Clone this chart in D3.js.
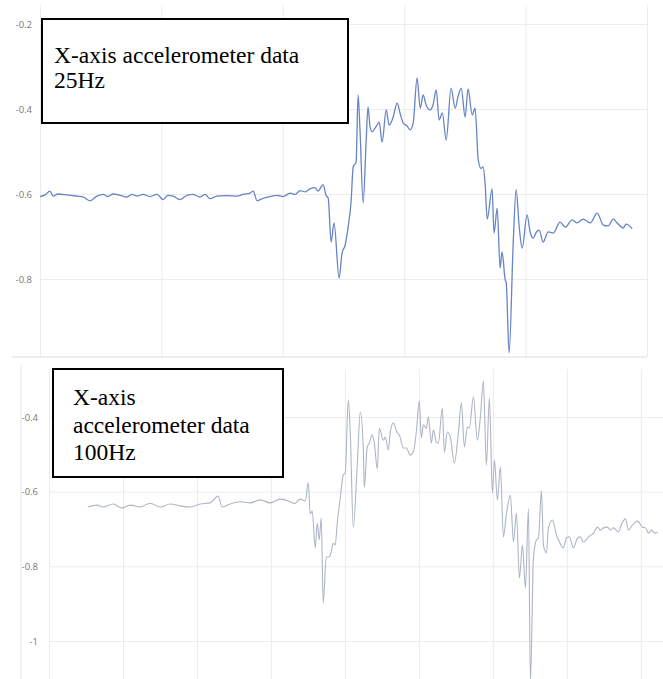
<!DOCTYPE html>
<html>
<head>
<meta charset="utf-8">
<script src="https://cdn.jsdelivr.net/npm/d3@7"></script>
<style>
  body { margin: 0; background: #fff; }
  .tick text { font-family: "Open Sans", sans-serif; font-size: 9.5px; fill: #777; }
  .grid line { stroke: #ececec; stroke-width: 1; }
  .label text { font-family: "Liberation Serif", "Times New Roman", serif; font-size: 23.5px; fill: #000; }
</style>
</head>
<body>
<svg id="chart" width="663" height="679"></svg>
<script>
// 25Hz recording: sample index / acceleration (g)
var topT = [0, 2.1, 4.1, 5.4, 7.4, 11.1, 15.2, 17.7, 20.6, 23.5, 26, 28, 30.1, 33, 35.8, 37.9, 40, 42.4,
    45.3, 48.2, 50.7, 52.7, 54.8, 57.7, 60.6, 63, 65.9, 68, 70, 72.9, 77, 81.2, 83.6, 86.5, 87.8, 89.4,
    91.9, 94.8, 97.6, 100.1, 103, 105.1, 107.1, 109.2, 111.2, 113.3, 114.5, 116.6, 117.8, 118.7,
    119.9, 121.1, 123.2, 124.4, 125.7, 126.9, 128.1, 129, 130.2, 131, 131.8, 133.1, 134.3, 135.1,
    135.9, 136.8, 138, 138.8, 139.7, 140.9, 142.6, 143.8, 145.4, 147.1, 148.3, 149.6, 151.2, 152.4,
    153.7, 155.3, 156.6, 157.8, 159, 160.7, 161.9, 163.2, 164.4, 165.7, 167.3, 169.3, 171, 172.2,
    173.5, 175.1, 176.3, 178, 179.2, 180.5, 181.7, 182.5, 183.3, 184.2, 186.2, 187, 188.3, 189.5,
    190.3, 191.6, 192, 193.2, 194.9, 196.1, 197.4, 198.6, 200.6, 201.9, 203.1, 204.4, 205.6, 207.2,
    209.3, 211.4, 214.2, 216.3, 219.2, 221.2, 223.7, 226.6, 229.5, 232, 234, 236.1, 237.7, 240.2,
    241.4, 243.9];
var topV = [-0.606, -0.602, -0.593, -0.605, -0.600, -0.602, -0.605, -0.607, -0.616, -0.605, -0.601,
    -0.606, -0.600, -0.603, -0.607, -0.601, -0.605, -0.601, -0.606, -0.601, -0.613, -0.603, -0.605,
    -0.613, -0.603, -0.601, -0.607, -0.601, -0.611, -0.605, -0.604, -0.605, -0.601, -0.598, -0.593,
    -0.616, -0.610, -0.606, -0.603, -0.606, -0.598, -0.601, -0.592, -0.595, -0.588, -0.585, -0.593,
    -0.578, -0.603, -0.610,
    -0.713, -0.668, -0.798, -0.739, -0.720, -0.678, -0.620, -0.536, -0.525, -0.367, -0.450, -0.621,
    -0.480, -0.395, -0.440, -0.454, -0.445, -0.438, -0.431, -0.478, -0.402, -0.438, -0.420, -0.386,
    -0.410, -0.433, -0.440, -0.449, -0.433, -0.327, -0.398, -0.367, -0.390, -0.402, -0.390, -0.355,
    -0.426, -0.409, -0.473, -0.351, -0.398, -0.370, -0.351, -0.419, -0.353, -0.414, -0.398, -0.520,
    -0.540, -0.536, -0.574, -0.659, -0.588, -0.692, -0.633, -0.774, -0.736, -0.802, -0.807, -0.974,
    -0.715, -0.590, -0.680, -0.727, -0.649, -0.690, -0.704, -0.690, -0.685, -0.713, -0.689, -0.692,
    -0.666, -0.678, -0.661, -0.668, -0.659, -0.668, -0.645, -0.673, -0.675, -0.659, -0.668, -0.680,
    -0.671, -0.682];
var topYTicks = [-0.2, -0.4, -0.6, -0.8];
var topXTicks = [0, 50, 100, 150, 200, 250];
var topLabel = ['X-axis accelerometer data', '25Hz'];

// 100Hz recording: sample index / acceleration (g)
var bottomT = [105.5, 129.9, 146.1, 173.2, 197.5, 219.2, 246.2, 273.3, 300.4, 327.4, 354.5, 381.5,
    408.6, 435.7, 457.3, 468.1, 489.8, 516.8, 543.9, 571, 598, 625.1, 652.1, 663.9, 679.2, 692.7,
    700.9, 706.3, 711.7, 719.8, 725.2, 730.6, 736, 741.4, 749.6, 757.7, 763.1, 768.5, 773.9, 779.3,
    787.4, 795.6, 801, 809.1, 814.5, 822.6, 833.4, 841.6, 849.7, 852.4, 860.5, 865.9, 874, 879.5,
    887.6, 893, 903.8, 909.2, 917.3, 922.7, 930.9, 941.7, 947.1, 957.9, 966, 976.9, 985, 993.1,
    1001.2, 1006.6, 1012, 1020.2, 1025.6, 1033.7, 1039.1, 1047.2, 1052.6, 1063.5, 1068.9, 1077,
    1085.1, 1095.9, 1106.8, 1114.9, 1123, 1131.1, 1136.5, 1147.4, 1158.2, 1166.3, 1174.4, 1182.5,
    1190.6, 1198.8, 1204.2, 1212.3, 1220.4, 1228.5, 1236.6, 1247.5, 1255.6, 1263.7, 1271.8, 1280,
    1288.1, 1296.2, 1301.6, 1309.7, 1317.8, 1323.2, 1331.4, 1336.8, 1344.9, 1350.3, 1361.1, 1371.9,
    1380.1, 1390.9, 1399, 1407.1, 1417.9, 1428.8, 1436.9, 1445, 1458.5, 1472.1, 1482.9, 1491,
    1499.1, 1509.9, 1518, 1526.2, 1539.7, 1547.8, 1558.6, 1566.7, 1577.6, 1591.1, 1604.6, 1612.8,
    1620.9, 1629, 1637.1, 1645.2];
var bottomV = [-0.641, -0.636, -0.641, -0.633, -0.644, -0.636, -0.641, -0.631, -0.641, -0.633, -0.638,
    -0.641, -0.633, -0.630, -0.612, -0.641, -0.633, -0.627, -0.630, -0.622, -0.630, -0.620, -0.627,
    -0.632, -0.620, -0.625, -0.576, -0.660, -0.652, -0.751, -0.684, -0.729, -0.670, -0.898, -0.775,
    -0.775, -0.760, -0.738, -0.743, -0.684, -0.617, -0.555, -0.550, -0.354, -0.440, -0.695, -0.529,
    -0.387, -0.483, -0.588, -0.480, -0.470, -0.448, -0.470, -0.539, -0.430, -0.462, -0.454, -0.488,
    -0.440, -0.416, -0.443, -0.448, -0.483, -0.483, -0.502, -0.494, -0.440, -0.357, -0.456, -0.421,
    -0.430, -0.400, -0.470, -0.435, -0.467, -0.470, -0.376, -0.494, -0.440, -0.454, -0.523, -0.443,
    -0.362, -0.480, -0.427, -0.430, -0.346, -0.462, -0.400, -0.304, -0.529, -0.349, -0.604, -0.515,
    -0.622, -0.534, -0.721, -0.660, -0.609, -0.735, -0.657, -0.831, -0.743, -0.858, -0.646, -1.110,
    -0.778, -0.729, -0.724, -0.598, -0.743, -0.764, -0.697, -0.676, -0.716, -0.735, -0.751, -0.724,
    -0.721, -0.751, -0.724, -0.721, -0.735, -0.721, -0.711, -0.695, -0.703, -0.697, -0.695, -0.703,
    -0.697, -0.708, -0.687, -0.673, -0.703, -0.689, -0.679, -0.695, -0.697, -0.711, -0.703, -0.711,
    -0.708];
var bottomYTicks = [-0.4, -0.6, -0.8, -1];
var bottomXTicks = [0, 200, 400, 600, 800, 1000, 1200, 1400, 1600];
var bottomLabel = ['X-axis', 'accelerometer data', '100Hz'];

var svg = d3.select('#chart');

function drawPanel(p) {
    var x = d3.scaleLinear().domain(p.xDomain).range([p.left, p.right]);
    var y = d3.scaleLinear().domain(p.yDomain).range(p.yRange);
    var g = svg.append('g');

    // vertical grid
    g.append('g')
        .attr('class', 'grid')
        .attr('transform', 'translate(0,' + p.bottom + ')')
        .call(d3.axisBottom(x).tickValues(p.xTicks).tickSize(-(p.bottom - p.top)).tickFormat(''))
        .call(a => a.select('.domain').remove());

    // horizontal grid + labels
    g.append('g')
        .attr('class', 'grid')
        .attr('transform', 'translate(' + p.left + ',0)')
        .call(d3.axisLeft(y).tickValues(p.yTicks).tickSize(-(p.right - p.left)).tickPadding(p.pad)
            .tickFormat(d => String(d)))
        .call(a => a.select('.domain').remove());

    if (p.edge) {
        g.append('line')
            .attr('x1', p.edge[0]).attr('x2', p.edge[1])
            .attr('y1', p.bottom).attr('y2', p.bottom)
            .attr('stroke', '#dcdcdc');
    }
    if (p.leftEdge) {
        g.append('line')
            .attr('x1', p.leftEdge).attr('x2', p.leftEdge)
            .attr('y1', p.top - 4).attr('y2', p.bottom)
            .attr('stroke', '#e4e4e4');
    }

    var clipId = 'clip' + p.name;
    svg.append('clipPath').attr('id', clipId)
        .append('rect')
        .attr('x', p.left).attr('y', p.top)
        .attr('width', p.right - p.left).attr('height', p.bottom - p.top);

    var pts = p.t.map((t, i) => [t, p.v[i]]);
    var line = d3.line()
        .x(d => x(d[0]))
        .y(d => y(d[1]))
        .curve(d3.curveMonotoneX);

    g.append('path')
        .datum(pts)
        .attr('clip-path', 'url(#' + clipId + ')')
        .attr('fill', 'none')
        .attr('stroke', p.color)
        .attr('stroke-width', p.width)
        .attr('stroke-linejoin', 'round')
        .attr('d', line);

    // caption box
    var b = p.box;
    var lab = svg.append('g').attr('class', 'label');
    lab.append('rect')
        .attr('x', b.x).attr('y', b.y)
        .attr('width', b.w).attr('height', b.h)
        .attr('fill', '#fff')
        .attr('stroke', '#000')
        .attr('stroke-width', 2);
    lab.selectAll('text')
        .data(p.label)
        .join('text')
        .attr('x', b.tx)
        .attr('y', (d, i) => b.ty + i * b.lh)
        .text(d => d);
}

drawPanel({
    name: 'top', t: topT, v: topV,
    xDomain: [0, 250], left: 40, right: 647,
    yDomain: [-0.2, -0.8], yRange: [24, 279],
    top: 5, bottom: 357,
    xTicks: topXTicks, yTicks: topYTicks, pad: 8,
    edge: [12, 647],
    color: '#6784c4', width: 1.3,
    label: topLabel,
    box: { x: 42, y: 19, w: 306, h: 104, tx: 54, ty: 63, lh: 25 }
});

drawPanel({
    name: 'bottom', t: bottomT, v: bottomV,
    xDomain: [0, 1660], left: 49, right: 663,
    yDomain: [-0.4, -1], yRange: [417, 641],
    top: 369, bottom: 679,
    xTicks: bottomXTicks, yTicks: bottomYTicks, pad: 11,
    leftEdge: 21,
    color: '#adb5c6', width: 1.1,
    label: bottomLabel,
    box: { x: 53, y: 369, w: 230, h: 108, tx: 73, ty: 405, lh: 27.5 }
});
</script>
</body>
</html>
